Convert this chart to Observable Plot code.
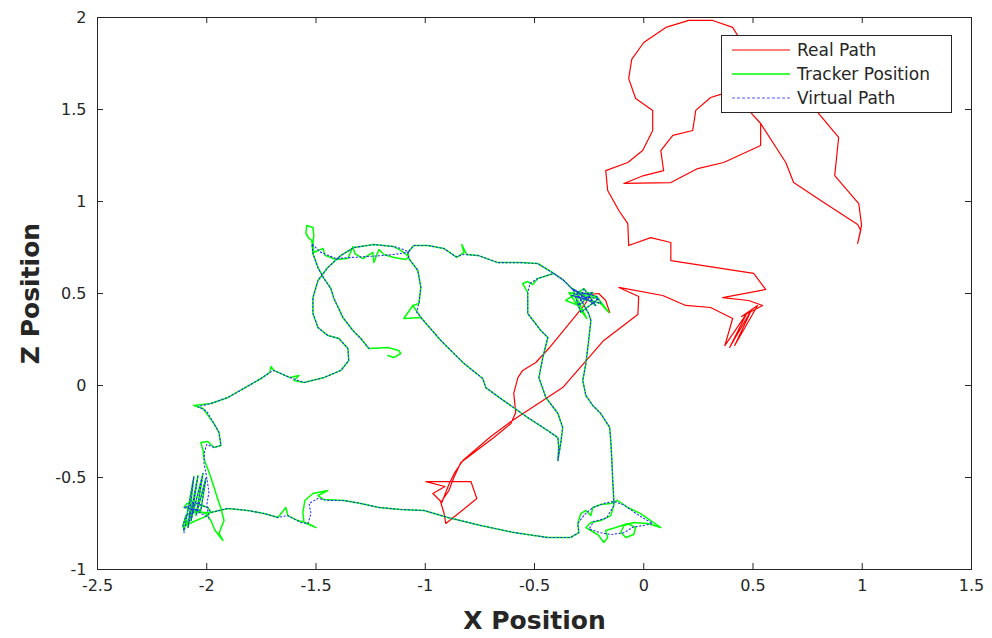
<!DOCTYPE html>
<html>
<head>
<meta charset="utf-8">
<script src="https://cdn.jsdelivr.net/npm/d3@7"></script>
<script src="https://cdn.jsdelivr.net/npm/@observablehq/plot@0.6"></script>
<style>
  html, body { margin: 0; padding: 0; background: #fff; }
  #wrap { position: relative; width: 992px; height: 638px; font-family: "DejaVu Sans", sans-serif; }
  #legend { position: absolute; left: 721px; top: 35px; width: 231px; height: 78px; box-sizing: border-box;
            border: 1px solid #262626; background: #fff; }
  #legend svg { display: block; }
</style>
</head>
<body>
<div id="wrap"></div>
<script>
// Axis ticks
const xTicks = [-2.5, -2, -1.5, -1, -0.5, 0, 0.5, 1, 1.5];
const yTicks = [-1, -0.5, 0, 0.5, 1, 1.5, 2];

// Series names
const seriesNames = ["Real Path", "Tracker Position", "Virtual Path"];

// Real (physical) walking path, [x, z]
const realPath = [
  [-0.156,0.397],[-0.174,0.462],[-0.206,0.500],[-0.242,0.495],[-0.270,0.440],
  [-0.435,0.201],[-0.494,0.125],[-0.554,0.082],[-0.576,0.043],[-0.595,-0.043],
  [-0.586,-0.147],[-0.608,-0.207],[-0.686,-0.283],[-0.837,-0.418],[-0.869,-0.500],
  [-0.892,-0.571],[-0.929,-0.636],[-0.915,-0.690],[-0.906,-0.750],[-0.837,-0.685],
  [-0.764,-0.614],[-0.791,-0.522],[-0.997,-0.522],[-0.910,-0.549],[-0.965,-0.587],
  [-0.924,-0.636],[-0.892,-0.538],[-0.865,-0.473],[-0.828,-0.408],[-0.700,-0.277],
  [-0.608,-0.196],[-0.371,-0.011],[-0.183,0.245],[-0.027,0.386],[-0.023,0.484],
  [-0.114,0.533],[0.087,0.489],[0.192,0.435],[0.306,0.424],[0.407,0.364],
  [0.371,0.217],[0.471,0.391],[0.393,0.207],[0.494,0.413],[0.416,0.217],
  [0.521,0.435],[0.448,0.375],[0.544,0.435],[0.480,0.462],[0.361,0.478],
  [0.558,0.522],[0.503,0.609],[0.124,0.679],[0.124,0.777],[0.032,0.804],
  [-0.069,0.761],[-0.073,0.880],[-0.114,0.951],[-0.165,1.060],[-0.174,1.168],
  [-0.073,1.212],[-0.005,1.277],[0.041,1.386],[0.041,1.495],[-0.037,1.560],
  [-0.069,1.668],[-0.055,1.772],[0.000,1.864],[0.101,1.946],[0.206,1.984],
  [0.316,1.984],[0.407,1.946],[0.444,1.875],[0.627,1.712],[0.764,1.522],
  [0.801,1.478],[0.892,1.348],[0.874,1.141],[0.984,0.989],[0.997,0.870],
  [0.979,0.772],[0.993,0.842],[0.979,0.875],[0.810,1.005],[0.686,1.103],
  [0.650,1.212],[0.535,1.424],[0.489,1.484],[0.535,1.424],[0.535,1.304],
  [0.366,1.212],[0.247,1.179],[0.124,1.103],[-0.091,1.098],[0.000,1.141],
  [0.091,1.168],[0.078,1.277],[0.133,1.359],[0.224,1.386],[0.238,1.495],
  [0.306,1.565],[0.352,1.582]
];

// Tracker position samples, [x, z]
const trackerPath = [
  [-1.171,0.163],[-1.144,0.152],[-1.112,0.174],[-1.121,0.190],[-1.171,0.207],[-1.258,0.201],
  [-1.295,0.255],[-1.331,0.299],[-1.377,0.370],[-1.418,0.473],[-1.432,0.527],[-1.464,0.582],
  [-1.491,0.641],[-1.514,0.717],[-1.519,0.788],[-1.532,0.799],[-1.546,0.826],[-1.542,0.870],
  [-1.514,0.859],[-1.510,0.815],[-1.514,0.777],[-1.510,0.723],
  [-1.468,0.745],[-1.459,0.707],[-1.409,0.685],[-1.354,0.690],[-1.331,0.755],[-1.322,0.717],
  [-1.285,0.690],[-1.240,0.723],[-1.235,0.668],[-1.212,0.739],[-1.189,0.712],[-1.144,0.696],
  [-1.089,0.685],[-1.075,0.701],
  [-1.112,0.734],[-1.144,0.755],[-1.235,0.766],[-1.327,0.750],[-1.386,0.707],[-1.446,0.641],
  [-1.491,0.571],[-1.514,0.478],[-1.514,0.391],[-1.491,0.315],[-1.446,0.272],[-1.395,0.255],
  [-1.354,0.201],[-1.350,0.136],[-1.386,0.082],[-1.464,0.043],[-1.555,0.016],[-1.601,0.027],
  [-1.578,0.054],[-1.619,0.043],[-1.693,0.082],[-1.706,0.103],[-1.711,0.071],[-1.752,0.038],
  [-1.830,-0.016],[-1.903,-0.065],[-1.981,-0.098],[-2.059,-0.109],[-2.017,-0.125],[-1.967,-0.207],
  [-1.944,-0.255],[-1.935,-0.326],[-1.967,-0.337],[-1.995,-0.304],[-2.027,-0.310],[-2.017,-0.353],
  [-2.013,-0.397],[-1.981,-0.500],[-1.958,-0.587],[-1.935,-0.668],[-1.921,-0.734],[-1.944,-0.804],
  [-1.926,-0.842],[-1.962,-0.788],[-1.981,-0.734],[-2.004,-0.696],
  [-2.049,-0.679],[-2.095,-0.707],[-2.109,-0.761],[-2.104,-0.788],[-2.059,-0.495],[-2.086,-0.772],
  [-2.040,-0.489],[-2.072,-0.734],[-2.017,-0.478],[-2.049,-0.707],[-2.004,-0.505],[-2.027,-0.679],
  [-2.104,-0.663],[-2.091,-0.641],[-2.049,-0.641],[-1.995,-0.663],[-1.981,-0.690],[-2.013,-0.717],
  [-2.059,-0.739],[-2.095,-0.761],[-2.072,-0.690],[-1.981,-0.690],
  [-1.903,-0.668],[-1.812,-0.679],[-1.738,-0.696],[-1.674,-0.717],[-1.638,-0.663],[-1.629,-0.707],
  [-1.583,-0.734],[-1.537,-0.750],[-1.500,-0.772],[-1.555,-0.745],[-1.560,-0.690],[-1.551,-0.625],
  [-1.514,-0.587],[-1.446,-0.571],[-1.491,-0.598],[-1.464,-0.620],[-1.372,-0.625],[-1.295,-0.641],
  [-1.212,-0.663],[-1.112,-0.674],[-1.006,-0.679],[-0.897,-0.717],[-0.746,-0.761],[-0.595,-0.799],
  [-0.439,-0.826],[-0.334,-0.826],
  [-0.297,-0.799],[-0.302,-0.750],[-0.288,-0.696],[-0.265,-0.679],[-0.242,-0.707],[-0.233,-0.663],
  [-0.197,-0.647],[-0.151,-0.641],[-0.119,-0.625],[-0.073,-0.663],[-0.014,-0.696],[0.032,-0.734],
  [0.078,-0.772],[0.018,-0.750],[-0.046,-0.745],[-0.091,-0.761],[-0.105,-0.799],[-0.082,-0.826],
  [-0.046,-0.810],[-0.037,-0.772],[-0.073,-0.750],[-0.128,-0.772],[-0.174,-0.788],[-0.165,-0.826],
  [-0.183,-0.853],[-0.206,-0.815],[-0.242,-0.788],[-0.265,-0.772],[-0.242,-0.745],[-0.197,-0.734],
  [-0.151,-0.707],[-0.137,-0.652],
  [-0.137,-0.625],[-0.142,-0.516],[-0.146,-0.408],[-0.151,-0.299],[-0.156,-0.228],[-0.197,-0.152],
  [-0.233,-0.109],[-0.265,-0.054],[-0.279,0.027],[-0.265,0.120],[-0.252,0.245],[-0.242,0.353],
  [-0.252,0.391],
  [-0.311,0.516],[-0.252,0.462],[-0.334,0.489],[-0.233,0.505],[-0.297,0.435],[-0.357,0.462],
  [-0.274,0.527],[-0.220,0.435],[-0.325,0.527],[-0.288,0.397],[-0.206,0.473],[-0.343,0.505],
  [-0.261,0.364],[-0.311,0.484],[-0.197,0.446],[-0.160,0.397],[-0.215,0.484],[-0.320,0.516],
  [-0.366,0.571],[-0.412,0.609],[-0.485,0.663],[-0.563,0.668],[-0.668,0.668],[-0.759,0.707],
  [-0.810,0.712],[-0.833,0.766],[-0.823,0.723],[-0.855,0.696],[-0.915,0.745],[-0.988,0.761],
  [-1.052,0.761],[-1.080,0.723],
  [-1.075,0.690],[-1.034,0.625],[-1.020,0.533],[-1.029,0.446],[-1.057,0.435],[-1.098,0.364],
  [-1.020,0.370],[-1.057,0.435],[-1.020,0.370],
  [-0.929,0.245],[-0.823,0.120],[-0.737,0.038],[-0.723,-0.011],[-0.654,-0.071],[-0.531,-0.174],
  [-0.439,-0.245],[-0.393,-0.283],[-0.389,-0.337],[-0.393,-0.408],
  [-0.380,-0.315],[-0.371,-0.228],[-0.393,-0.152],[-0.448,-0.065],[-0.480,0.043],[-0.462,0.152],
  [-0.439,0.261],[-0.471,0.299],[-0.531,0.391],[-0.531,0.505],[-0.554,0.554],[-0.531,0.565],
  [-0.508,0.549],[-0.485,0.582],[-0.412,0.609],[-0.366,0.571],[-0.320,0.516]
];

// Virtual (rendered) path, [x, z]
const virtualPath = [
  [-1.258,0.201],[-1.295,0.255],[-1.331,0.299],[-1.377,0.370],[-1.418,0.473],[-1.432,0.527],
  [-1.464,0.582],[-1.491,0.641],[-1.514,0.717],[-1.519,0.770],[-1.480,0.725],[-1.409,0.690],
  [-1.350,0.695],[-1.280,0.700],[-1.210,0.705],[-1.144,0.712],[-1.075,0.725],
  [-1.112,0.745],[-1.144,0.755],[-1.235,0.766],[-1.327,0.750],[-1.386,0.707],[-1.446,0.641],
  [-1.491,0.571],[-1.514,0.478],[-1.514,0.391],[-1.491,0.315],[-1.446,0.272],[-1.395,0.255],
  [-1.354,0.201],[-1.350,0.136],[-1.386,0.082],[-1.464,0.043],[-1.555,0.016],[-1.619,0.043],
  [-1.693,0.082],[-1.711,0.071],[-1.752,0.038],[-1.830,-0.016],[-1.903,-0.065],[-1.981,-0.098],
  [-2.040,-0.115],[-2.000,-0.140],[-1.967,-0.207],[-1.944,-0.255],[-1.935,-0.326],[-1.967,-0.337],
  [-2.000,-0.320],[-2.010,-0.360],[-2.013,-0.420],[-2.000,-0.500],[-1.990,-0.580],[-2.000,-0.650],
  [-1.990,-0.720],
  [-2.049,-0.679],[-2.095,-0.707],[-2.109,-0.761],[-2.104,-0.800],[-2.059,-0.495],[-2.086,-0.772],
  [-2.040,-0.489],[-2.072,-0.734],[-2.017,-0.478],[-2.049,-0.707],[-2.004,-0.505],[-2.027,-0.679],
  [-2.104,-0.663],[-2.049,-0.641],[-1.995,-0.663],[-1.981,-0.690],
  [-1.903,-0.668],[-1.812,-0.679],[-1.738,-0.696],[-1.674,-0.717],[-1.629,-0.707],[-1.569,-0.745],
  [-1.537,-0.750],[-1.523,-0.696],[-1.532,-0.641],[-1.491,-0.614],[-1.446,-0.625],[-1.372,-0.625],
  [-1.295,-0.641],[-1.212,-0.663],[-1.112,-0.674],[-1.006,-0.679],[-0.897,-0.717],[-0.746,-0.761],
  [-0.595,-0.799],[-0.439,-0.826],[-0.334,-0.826],
  [-0.297,-0.799],[-0.302,-0.750],[-0.270,-0.700],[-0.233,-0.663],[-0.180,-0.640],[-0.137,-0.630],
  [-0.090,-0.650],[-0.030,-0.700],[0.040,-0.750],[0.000,-0.760],[-0.050,-0.770],[-0.090,-0.800],
  [-0.150,-0.810],[-0.200,-0.800],[-0.250,-0.780],[-0.230,-0.740],[-0.170,-0.720],[-0.137,-0.652],
  [-0.137,-0.625],[-0.142,-0.516],[-0.146,-0.408],[-0.151,-0.299],[-0.156,-0.228],[-0.197,-0.152],
  [-0.233,-0.109],[-0.265,-0.054],[-0.279,0.027],[-0.265,0.120],[-0.252,0.245],[-0.242,0.353],
  [-0.252,0.391],
  [-0.311,0.516],[-0.252,0.462],[-0.334,0.489],[-0.233,0.505],[-0.297,0.435],[-0.274,0.527],
  [-0.220,0.435],[-0.325,0.527],[-0.288,0.397],[-0.206,0.473],[-0.311,0.484],[-0.197,0.446],
  [-0.215,0.484],[-0.320,0.516],
  [-0.366,0.571],[-0.412,0.609],[-0.485,0.663],[-0.563,0.668],[-0.668,0.668],[-0.759,0.707],
  [-0.823,0.712],[-0.860,0.700],[-0.915,0.745],[-0.988,0.761],[-1.052,0.761],[-1.080,0.723],
  [-1.075,0.690],[-1.034,0.625],[-1.020,0.533],[-1.029,0.446],[-1.040,0.400],[-1.020,0.370],
  [-0.929,0.245],[-0.823,0.120],[-0.737,0.038],[-0.723,-0.011],[-0.654,-0.071],[-0.531,-0.174],
  [-0.439,-0.245],[-0.393,-0.283],[-0.389,-0.337],[-0.393,-0.408],
  [-0.380,-0.315],[-0.371,-0.228],[-0.393,-0.152],[-0.448,-0.065],[-0.480,0.043],[-0.462,0.152],
  [-0.439,0.261],[-0.471,0.299],[-0.531,0.391],[-0.531,0.505],[-0.520,0.555],[-0.485,0.582],
  [-0.412,0.609],[-0.366,0.571],[-0.320,0.516]
];

const toRows = pts => pts.map(([x, z]) => ({x, z}));
const ink = "#262626";
const fmt = d => String(d);

const chart = Plot.plot({
  width: 992,
  height: 638,
  marginLeft: 97,
  marginRight: 21,
  marginTop: 17,
  marginBottom: 69,
  style: {fontFamily: "DejaVu Sans, sans-serif", fontSize: "16px", color: ink, background: "#fff"},
  x: {domain: [-2.5, 1.5]},
  y: {domain: [-1, 2]},
  marks: [
    Plot.line(toRows(realPath), {x: "x", y: "z", stroke: "#ff0000", strokeWidth: 1.2, curve: "linear"}),
    Plot.line(toRows(trackerPath), {x: "x", y: "z", stroke: "#00ff00", strokeWidth: 1.5, curve: "linear"}),
    Plot.line(toRows(virtualPath), {x: "x", y: "z", stroke: "#2a2aff", strokeWidth: 1.1, strokeDasharray: "1.3 2.4", curve: "linear"}),
    Plot.frame({stroke: ink, strokeWidth: 1}),
    // inward tick marks on all four sides
    Plot.tickX(xTicks, {x: d => d, insetTop: 546, stroke: ink}),
    Plot.tickX(xTicks, {x: d => d, insetBottom: 546, stroke: ink}),
    Plot.tickY(yTicks, {y: d => d, insetRight: 868, stroke: ink}),
    Plot.tickY(yTicks, {y: d => d, insetLeft: 868, stroke: ink}),
    Plot.axisX({ticks: xTicks, tickSize: 0, tickPadding: 10, tickFormat: fmt, label: null, fontSize: 16, fill: ink}),
    Plot.axisY({ticks: yTicks, tickSize: 0, tickPadding: 11, tickFormat: fmt, label: null, fontSize: 16, fill: ink}),
    Plot.text(["X Position"], {frameAnchor: "bottom", dy: 51, lineAnchor: "middle", textAnchor: "middle", fontSize: 25, fontWeight: "bold", fill: ink}),
    Plot.text(["Z Position"], {frameAnchor: "left", dx: -67, rotate: -90, lineAnchor: "middle", textAnchor: "middle", fontSize: 25, fontWeight: "bold", fill: ink})
  ]
});

const wrap = document.getElementById("wrap");
wrap.appendChild(chart);

// Legend box in the upper right of the axes
const legend = document.createElement("div");
legend.id = "legend";
const swatches = [
  {stroke: "#ff0000", width: 1.2, dash: null},
  {stroke: "#00ff00", width: 1.5, dash: null},
  {stroke: "#5555ff", width: 1.2, dash: "3 2"}
];
const ns = "http://www.w3.org/2000/svg";
const lsvg = document.createElementNS(ns, "svg");
lsvg.setAttribute("width", 229);
lsvg.setAttribute("height", 76);
seriesNames.forEach((name, i) => {
  const cy = 14 + i * 24;
  const ln = document.createElementNS(ns, "line");
  ln.setAttribute("x1", 10); ln.setAttribute("x2", 68);
  ln.setAttribute("y1", cy); ln.setAttribute("y2", cy);
  ln.setAttribute("stroke", swatches[i].stroke);
  ln.setAttribute("stroke-width", swatches[i].width);
  if (swatches[i].dash) ln.setAttribute("stroke-dasharray", swatches[i].dash);
  lsvg.appendChild(ln);
  const tx = document.createElementNS(ns, "text");
  tx.setAttribute("x", 75); tx.setAttribute("y", cy);
  tx.setAttribute("dy", "0.35em");
  tx.setAttribute("font-size", 17);
  tx.setAttribute("font-family", "DejaVu Sans, sans-serif");
  tx.setAttribute("fill", ink);
  tx.textContent = name;
  lsvg.appendChild(tx);
});
legend.appendChild(lsvg);
wrap.appendChild(legend);
</script>
</body>
</html>
